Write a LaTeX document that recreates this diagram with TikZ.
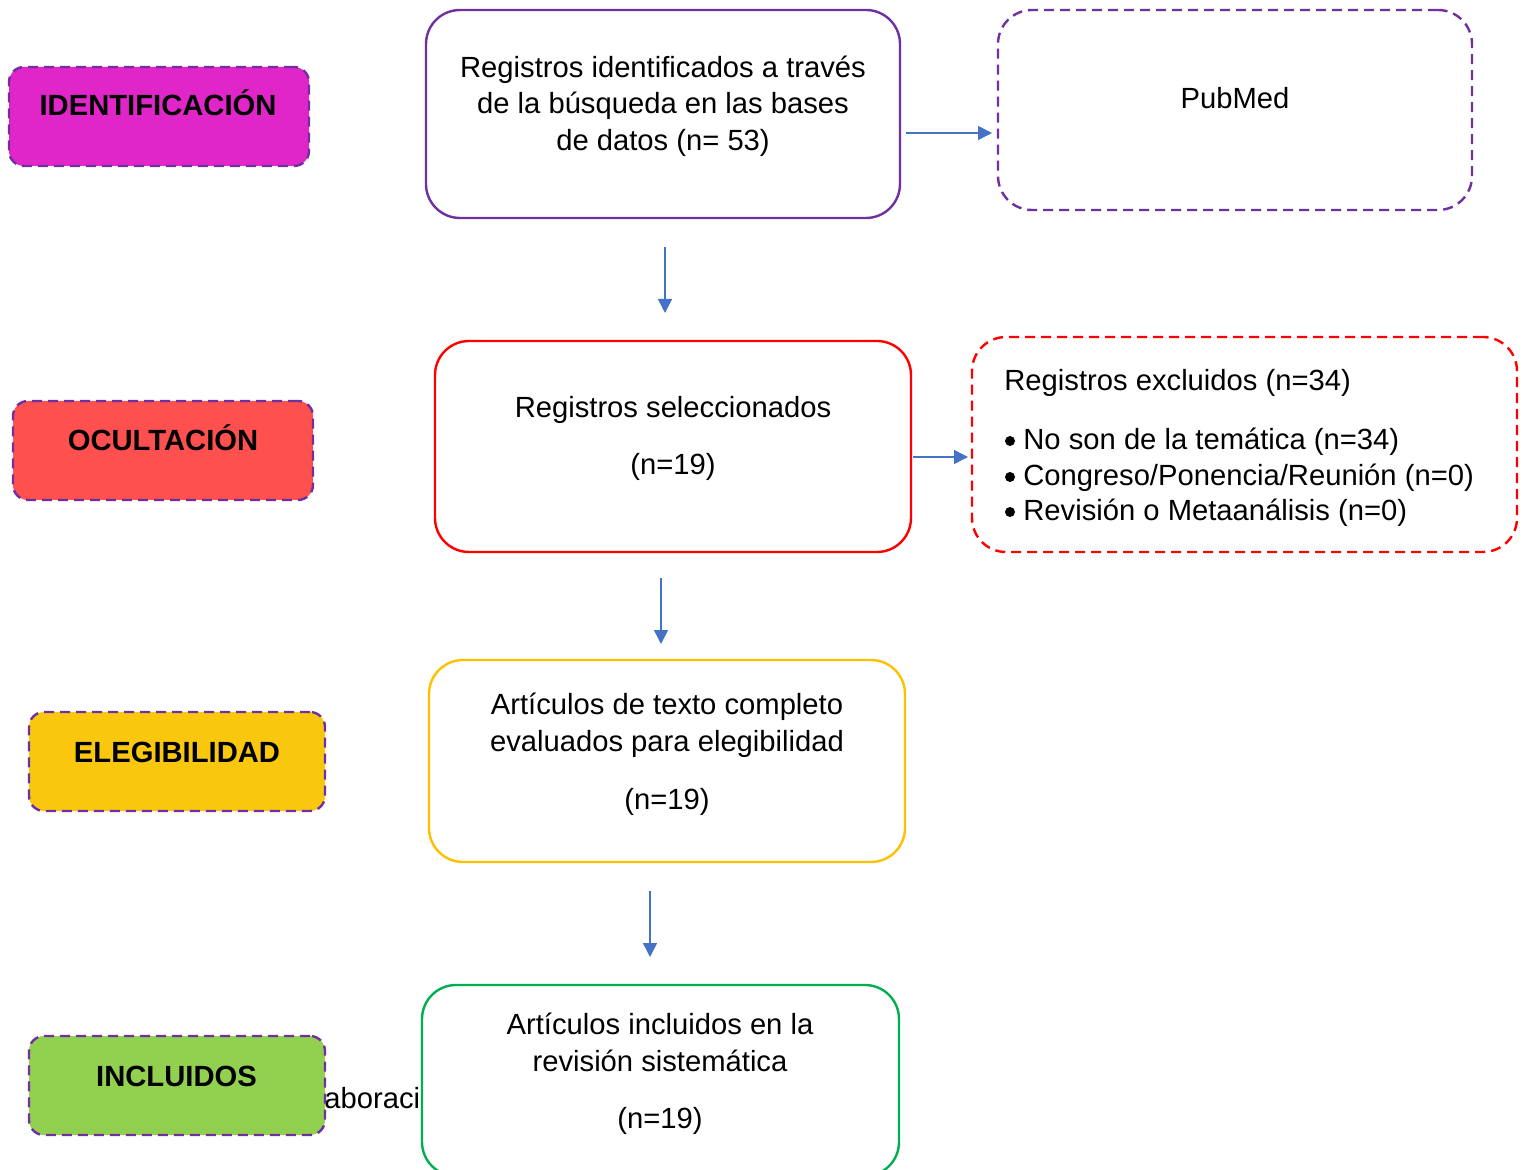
\documentclass[tikz,border=0pt]{standalone}
\usepackage{fontspec}
\setmainfont{Liberation Sans}
\usetikzlibrary{arrows.meta}
\definecolor{purp}{HTML}{7030A0}
\definecolor{magfill}{HTML}{E026C8}
\definecolor{redfill}{HTML}{FF5050}
\definecolor{yelfill}{HTML}{F9C80E}
\definecolor{grnfill}{HTML}{92D050}
\definecolor{yelline}{HTML}{FFC000}
\definecolor{grnline}{HTML}{00B050}
\definecolor{redline}{HTML}{FF0000}
\definecolor{arrowblue}{HTML}{4472C4}
\begin{document}
\begin{tikzpicture}[x=0.5pt,y=-0.5pt,
  box/.style={draw, fill=white, line width=1.2pt, rounded corners=17pt, inner sep=0pt, outer sep=0pt},
  lbl/.style={draw=purp, dash pattern=on 5pt off 3pt, line width=1.2pt, rounded corners=7.5pt, inner sep=0pt, outer sep=0pt, minimum height=49.5pt},
  txt/.style={inner sep=0pt, anchor=base, font=\fontsize{14.6}{17.5}\selectfont},
  ltxt/.style={txt, anchor=base west},
  bul/.style={circle, fill=black, inner sep=0pt, minimum size=5pt},
  btxt/.style={txt, font=\fontsize{14.6}{17.5}\selectfont\bfseries},
  arr/.style={draw=arrowblue, line width=0.75pt, -{Triangle[length=7pt,width=7pt]}}]
\useasboundingbox (0,0) rectangle (1525,1170);
\clip (0,0) rectangle (1525,1170);

% partially hidden text
\node[ltxt] (elab) at (324,1108) {aboraci};

% stage labels
\node[lbl, fill=magfill, minimum width=150pt] (lab1) at (159,116.5) {};
\node[btxt] (lab1t) at (158,116) {IDENTIFICACIÓN};
\node[lbl, fill=redfill, minimum width=150pt] (lab2) at (163,450.5) {};
\node[btxt] (lab2t) at (163,451) {OCULTACIÓN};
\node[lbl, fill=yelfill, minimum width=148pt] (lab3) at (177,761.5) {};
\node[btxt] (lab3t) at (177,762) {ELEGIBILIDAD};
\node[lbl, fill=grnfill, minimum width=148pt] (lab4) at (177,1085.5) {};
\node[btxt] (lab4t) at (176.5,1086) {INCLUIDOS};

% main boxes
\node[box, draw=purp, minimum width=237pt, minimum height=104pt] (b1) at (663,114) {};
\node[txt] (b1t1) at (663,78) {Registros identificados a través};
\node[txt] (b1t2) at (663,114) {de la búsqueda en las bases};
\node[txt] (b1t3) at (663,151) {de datos (n= 53)};

\node[box, draw=purp, dash pattern=on 5pt off 3pt, minimum width=237pt, minimum height=100pt] (pub) at (1235,110) {};
\node[txt] (pubt) at (1235,109) {PubMed};

\node[box, draw=redline, minimum width=238pt, minimum height=105.5pt] (b2) at (673,446.5) {};
\node[txt] (b2t1) at (673,418) {Registros seleccionados};
\node[txt] (b2t2) at (673,475) {(n=19)};

\node[box, draw=redline, dash pattern=on 5pt off 3pt, minimum width=272.5pt, minimum height=107.5pt] (exc) at (1244.5,444.5) {};
\node[ltxt] (exct) at (1004,391) {Registros excluidos (n=34)};
\node[bul] (bul1) at (1010,441) {};
\node[ltxt] (exc1) at (1023,450) {No son de la temática (n=34)};
\node[bul] (bul2) at (1010,477) {};
\node[ltxt] (exc2) at (1023,486) {Congreso/Ponencia/Reunión (n=0)};
\node[bul] (bul3) at (1010,512) {};
\node[ltxt] (exc3) at (1023,521) {Revisión o Metaanálisis (n=0)};

\node[box, draw=yelline, minimum width=238pt, minimum height=101pt] (b3) at (667,761) {};
\node[txt] (b3t1) at (667,714) {Artículos de texto completo};
\node[txt] (b3t2) at (667,751) {evaluados para elegibilidad};
\node[txt] (b3t3) at (667,809) {(n=19)};

\node[box, draw=grnline, minimum width=238.5pt, minimum height=95.5pt] (b4) at (660.5,1080.5) {};
\node[txt] (b4t1) at (660,1034) {Artículos incluidos en la};
\node[txt] (b4t2) at (660,1071) {revisión sistemática};
\node[txt] (b4t3) at (660,1128) {(n=19)};

% connectors
\coordinate (r1y) at (0,133);
\coordinate (r2y) at (0,457);
\coordinate (d1x) at (665,0);
\coordinate (d2x) at (661,0);
\coordinate (d3x) at (650,0);
\draw[arr, shorten <=3pt, shorten >=3pt] (b1.east |- r1y) -- (pub.west |- r1y);
\draw[arr, shorten <=1pt, shorten >=2pt] (b2.east |- r2y) -- (exc.west |- r2y);
\draw[arr, shorten <=14.5pt, shorten >=14pt] (b1.south -| d1x) -- (b2.north -| d1x);
\draw[arr, shorten <=13pt, shorten >=8pt] (b2.south -| d2x) -- (b3.north -| d2x);
\draw[arr, shorten <=14.5pt, shorten >=14pt] (b3.south -| d3x) -- (b4.north -| d3x);
\end{tikzpicture}
\end{document}
